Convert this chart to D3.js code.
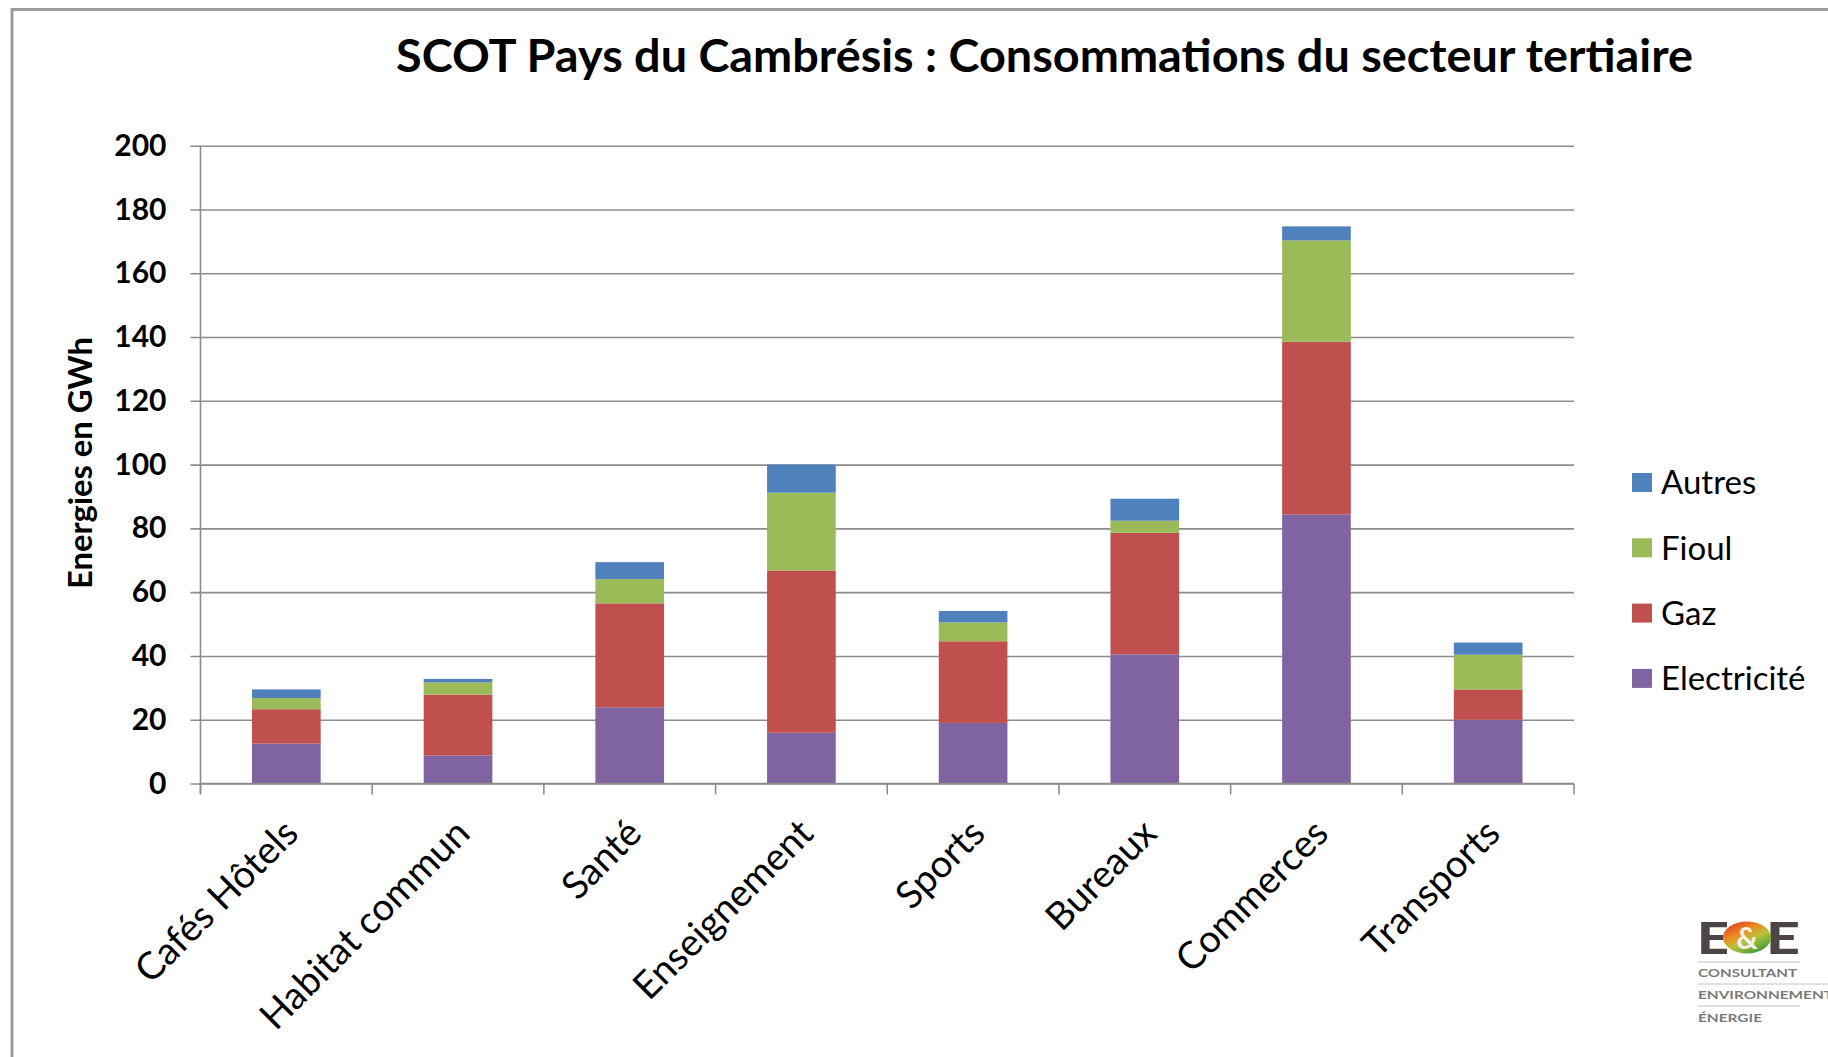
<!DOCTYPE html>
<html>
<head>
<meta charset="utf-8">
<script src="https://cdn.jsdelivr.net/npm/d3@7"></script>
<style>
  body { margin: 0; background: #ffffff; }
  svg { display: block; }
</style>
</head>
<body>
<svg id="chart" width="1828" height="1057"></svg>
<script>
// Energy use of the tertiary sector by branch (GWh)
const categories = ["Cafés Hôtels", "Habitat commun", "Santé", "Enseignement", "Sports", "Bureaux", "Commerces", "Transports"];
const seriesNames = ["Electricité", "Gaz", "Fioul", "Autres"];
const electricite = [12.5, 8.8, 23.9, 15.9, 19.0, 40.5, 84.4, 20.0];
const gaz = [10.8, 19.1, 32.6, 50.9, 25.6, 38.1, 54.1, 9.5];
const fioul = [3.5, 3.8, 7.6, 24.4, 5.9, 3.8, 31.8, 10.9];
const autres = [2.7, 1.1, 5.3, 8.8, 3.6, 6.9, 4.4, 3.8];
const yTicks = [0, 20, 40, 60, 80, 100, 120, 140, 160, 180, 200];
const seriesColors = ["#8064A2", "#C0504D", "#9BBB59", "#4F81BD"];

const titleText = "SCOT Pays du Cambrésis : Consommations du secteur tertiaire";
const yTitleText = "Energies en GWh";

const svg = d3.select("#chart");
const W = 1828, H = 1057;
const plot = { left: 200.5, right: 1574, top: 145.7, bottom: 783.5 };

// Outer frame
svg.append("line").attr("x1", 12).attr("x2", W).attr("y1", 9.5).attr("y2", 9.5)
  .attr("stroke", "#9a9a9a").attr("stroke-width", 3);
svg.append("line").attr("x1", 12).attr("x2", 12).attr("y1", 8).attr("y2", H)
  .attr("stroke", "#9a9a9a").attr("stroke-width", 3);

// Rows for stacking
const rows = categories.map((c, i) => ({
  cat: c,
  "Electricité": electricite[i],
  "Gaz": gaz[i],
  "Fioul": fioul[i],
  "Autres": autres[i]
}));
const stacked = d3.stack().keys(seriesNames)(rows);

const x = d3.scaleBand().domain(categories)
  .range([plot.left, plot.right]).paddingInner(0.6).paddingOuter(0.3);
const y = d3.scaleLinear().domain([0, 200]).range([plot.bottom, plot.top]);
const color = d3.scaleOrdinal().domain(seriesNames).range(seriesColors);

const gridColor = "#8c8c8c";

// Horizontal gridlines with value labels
const yAxis = d3.axisLeft(y).tickValues(yTicks)
  .tickSize(-(plot.right - plot.left + 10)).tickPadding(24);
const gy = svg.append("g").attr("transform", `translate(${plot.left - 10},0)`).call(yAxis);
gy.select(".domain").remove();
gy.selectAll(".tick line").attr("stroke", gridColor).attr("stroke-width", 1.6);
gy.selectAll(".tick text")
  .attr("font-family", "Lato, 'Open Sans', sans-serif")
  .attr("font-weight", 700)
  .attr("font-size", 30)
  .attr("fill", "#000");

// Vertical axis line
svg.append("line")
  .attr("x1", plot.left).attr("x2", plot.left)
  .attr("y1", y(200)).attr("y2", y(0) + 10)
  .attr("stroke", gridColor).attr("stroke-width", 1.6);

// Bars
const layers = svg.append("g").selectAll("g").data(stacked).join("g")
  .attr("fill", d => color(d.key));
layers.selectAll("rect").data(d => d).join("rect")
  .attr("x", d => x(d.data.cat))
  .attr("width", x.bandwidth())
  .attr("y", d => y(d[1]))
  .attr("height", d => y(d[0]) - y(d[1]));

// Category axis: baseline and boundary ticks
svg.append("line")
  .attr("x1", plot.left).attr("x2", plot.right)
  .attr("y1", y(0)).attr("y2", y(0))
  .attr("stroke", gridColor).attr("stroke-width", 1.6);
const half = (x.step() - x.bandwidth()) / 2;
const boundaries = categories.map(c => x(c) - half).concat([x(categories[categories.length - 1]) + x.bandwidth() + half]);
svg.append("g").selectAll("line").data(boundaries).join("line")
  .attr("x1", d => d).attr("x2", d => d)
  .attr("y1", y(0)).attr("y2", y(0) + 11)
  .attr("stroke", gridColor).attr("stroke-width", 1.6);

// Rotated category labels
svg.append("g").selectAll("text").data(categories).join("text")
  .attr("transform", c => `translate(${x(c) + x.bandwidth() / 2 + 14},${y(0) + 52}) rotate(-45)`)
  .attr("text-anchor", "end")
  .attr("font-family", "Lato, 'Open Sans', sans-serif")
  .attr("font-size", 38)
  .attr("fill", "#000")
  .text(c => c);

// Title
svg.append("text")
  .attr("x", 396).attr("y", 72)
  .attr("font-family", "Lato, 'Open Sans', sans-serif")
  .attr("font-weight", 700)
  .attr("font-size", 46)
  .attr("textLength", 1297)
  .attr("lengthAdjust", "spacingAndGlyphs")
  .attr("fill", "#000")
  .text(titleText);

// Value axis title
svg.append("text")
  .attr("transform", "translate(92,463) rotate(-90)")
  .attr("text-anchor", "middle")
  .attr("font-family", "Lato, 'Open Sans', sans-serif")
  .attr("font-weight", 700)
  .attr("font-size", 32)
  .attr("textLength", 252)
  .attr("lengthAdjust", "spacingAndGlyphs")
  .attr("fill", "#000")
  .text(yTitleText);

// Legend (top entry is the top of the stack)
const legendOrder = seriesNames.slice().reverse();
const legend = svg.append("g").selectAll("g").data(legendOrder).join("g")
  .attr("transform", (d, i) => `translate(1632,${482.5 + i * 65.3})`);
legend.append("rect")
  .attr("x", 0).attr("y", -9.5).attr("width", 20).attr("height", 19)
  .attr("fill", d => color(d));
legend.append("text")
  .attr("x", 29).attr("y", 0).attr("dy", "0.36em")
  .attr("font-family", "Lato, 'Open Sans', sans-serif")
  .attr("font-size", 33)
  .attr("fill", "#000")
  .text(d => d);

// Consultant logo, lower right corner
const defs = svg.append("defs");
const grad = defs.append("linearGradient").attr("id", "logoGrad")
  .attr("x1", "0%").attr("y1", "0%").attr("x2", "70%").attr("y2", "100%");
grad.append("stop").attr("offset", "0%").attr("stop-color", "#d8262a");
grad.append("stop").attr("offset", "40%").attr("stop-color", "#ee8a1f");
grad.append("stop").attr("offset", "65%").attr("stop-color", "#b8c23a");
grad.append("stop").attr("offset", "100%").attr("stop-color", "#3e9c3a");

const logo = svg.append("g");
const logoDark = "#4d4544";
logo.append("text").attr("x", 1697).attr("y", 954)
  .attr("font-family", "Lato, sans-serif").attr("font-weight", 900)
  .attr("font-size", 44).attr("textLength", 32).attr("lengthAdjust", "spacingAndGlyphs")
  .attr("fill", logoDark).text("E");
logo.append("text").attr("x", 1766).attr("y", 954)
  .attr("font-family", "Lato, sans-serif").attr("font-weight", 900)
  .attr("font-size", 44).attr("textLength", 34).attr("lengthAdjust", "spacingAndGlyphs")
  .attr("fill", logoDark).text("E");
logo.append("ellipse").attr("cx", 1747).attr("cy", 937.5).attr("rx", 24).attr("ry", 16)
  .attr("fill", "url(#logoGrad)");
logo.append("text").attr("x", 1747).attr("y", 949).attr("text-anchor", "middle")
  .attr("font-family", "Lato, sans-serif").attr("font-weight", 700)
  .attr("font-size", 30).attr("fill", "#f4f0e8").text("&");

[962, 984, 1006].forEach((ly, i) => {
  logo.append("line").attr("x1", 1698).attr("x2", i === 1 ? 1828 : 1800)
    .attr("y1", ly).attr("y2", ly).attr("stroke", "#c4c4c4").attr("stroke-width", 1.2);
});
const logoWords = [["CONSULTANT", 977, 99], ["ENVIRONNEMENT", 999, 135], ["ÉNERGIE", 1022, 64]];
logo.selectAll("text.word").data(logoWords).join("text")
  .attr("class", "word")
  .attr("x", 1698).attr("y", d => d[1])
  .attr("font-family", "Lato, sans-serif").attr("font-weight", 700)
  .attr("font-size", 12).attr("textLength", d => d[2]).attr("lengthAdjust", "spacingAndGlyphs")
  .attr("fill", "#7a7a7a").text(d => d[0]);
</script>
</body>
</html>
